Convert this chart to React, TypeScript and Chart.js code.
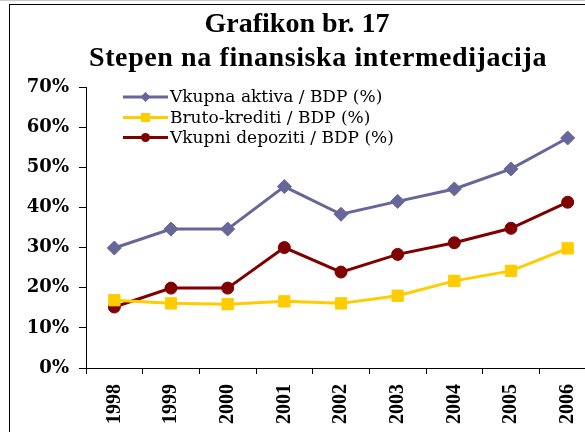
import React, { useEffect, useRef } from 'react';
import { Chart, registerables } from 'chart.js';

Chart.register(...registerables);

const TITLE_LINES = ['Grafikon br. 17', 'Stepen na finansiska intermedijacija'];
const YEARS = ['1998', '1999', '2000', '2001', '2002', '2003', '2004', '2005', '2006'];
const SERIES_LABELS = ['Vkupna aktiva / BDP (%)', 'Bruto-krediti / BDP (%)', 'Vkupni depoziti / BDP (%)'];
const AKTIVA = [29.9, 34.6, 34.6, 45.2, 38.3, 41.5, 44.6, 49.6, 57.3];
const KREDITI = [16.9, 16.1, 15.9, 16.6, 16.1, 18.0, 21.7, 24.2, 29.8];
const DEPOZITI = [15.2, 19.9, 19.9, 30.0, 23.9, 28.3, 31.2, 34.8, 41.3];
const Y_MIN = 0;
const Y_MAX = 70;
const Y_STEP = 10;

const COLORS = ['#666699', '#FFCC00', '#800000'];
const POINT_STYLES = ['rectRot', 'rect', 'circle'];
const POINT_RADII = [7, 8, 6];

function drawMarker(ctx: CanvasRenderingContext2D, style: string, x: number, y: number, r: number, color: string) {
  ctx.save();
  ctx.fillStyle = color;
  ctx.beginPath();
  if (style === 'rectRot') {
    ctx.moveTo(x, y - r);
    ctx.lineTo(x + r, y);
    ctx.lineTo(x, y + r);
    ctx.lineTo(x - r, y);
    ctx.closePath();
  } else if (style === 'rect') {
    ctx.rect(x - r, y - r, 2 * r, 2 * r);
  } else {
    ctx.arc(x, y, r, 0, Math.PI * 2);
  }
  ctx.fill();
  ctx.restore();
}

const decorPlugin = {
  id: 'decor',
  beforeDraw(chart: any) {
    const ctx: any = chart.ctx;
    ctx.save();
    ctx.fillStyle = '#ffffff';
    ctx.fillRect(0, 0, chart.width, chart.height);
    ctx.fillStyle = '#c8c8c8';
    ctx.fillRect(0, 0, chart.width, 1);
    ctx.strokeStyle = '#000000';
    ctx.lineWidth = 1;
    ctx.strokeRect(9.5, 4.5, chart.width + 20, chart.height + 20);
    ctx.fillStyle = '#000000';
    ctx.textAlign = 'center';
    ctx.textBaseline = 'alphabetic';
    ctx.font = 'bold 28px "Liberation Serif"';
    ctx.letterSpacing = '0px';
    ctx.fillText(TITLE_LINES[0], 297, 32);
    ctx.letterSpacing = '0.6px';
    ctx.fillText(TITLE_LINES[1], 318, 66);
    ctx.letterSpacing = '0px';
    ctx.restore();
  },
  afterDraw(chart: any) {
    const ctx: CanvasRenderingContext2D = chart.ctx;
    const x0 = 123;
    const x1 = 168;
    const rowY = [97, 117.5, 137.5];
    ctx.save();
    chart.data.datasets.forEach((ds: any, i: number) => {
      const y = rowY[i];
      ctx.strokeStyle = ds.borderColor;
      ctx.lineWidth = 3;
      ctx.beginPath();
      ctx.moveTo(x0, y);
      ctx.lineTo(x1, y);
      ctx.stroke();
      drawMarker(ctx, POINT_STYLES[i], (x0 + x1) / 2, y, i === 0 ? 5 : 4.5, ds.borderColor);
      ctx.fillStyle = '#000000';
      ctx.font = '17px "DejaVu Serif"';
      ctx.textAlign = 'left';
      ctx.textBaseline = 'middle';
      ctx.fillText(ds.label, x1 + 2, y + 1);
    });
    ctx.restore();
  },
};

export default function App() {
  const ref = useRef<HTMLCanvasElement>(null);

  useEffect(() => {
    const canvas = ref.current;
    if (!canvas) return;
    const seriesData = [AKTIVA, KREDITI, DEPOZITI];
    const chart = new Chart(canvas, {
      type: 'line',
      data: {
        labels: YEARS,
        datasets: seriesData.map((d, i) => ({
          label: SERIES_LABELS[i],
          data: d,
          borderColor: COLORS[i],
          backgroundColor: COLORS[i],
          pointBackgroundColor: COLORS[i],
          pointBorderColor: COLORS[i],
          pointBorderWidth: 1,
          pointStyle: POINT_STYLES[i] as any,
          pointRadius: POINT_RADII[i],
          borderWidth: 3,
          tension: 0,
          fill: false,
        })),
      },
      options: {
        animation: false,
        responsive: false,
        events: [],
        layout: { padding: { top: 87, left: 0, right: 44, bottom: 0 } },
        plugins: {
          legend: { display: false },
          title: { display: false },
          tooltip: { enabled: false },
        },
        scales: {
          x: {
            type: 'category',
            offset: true,
            grid: { offset: true, drawOnChartArea: false, drawTicks: true, tickLength: 6, color: '#000000', lineWidth: 1 },
            border: { display: true, color: '#000000', width: 1 },
            ticks: {
              minRotation: 90,
              maxRotation: 90,
              autoSkip: false,
              padding: 10,
              color: '#000000',
              font: { family: 'Liberation Serif', weight: 'bold', size: 20 },
            },
            afterFit: (s: any) => {
              s.height = 64;
            },
          },
          y: {
            min: Y_MIN,
            max: Y_MAX,
            grid: { drawOnChartArea: false, drawTicks: true, tickLength: 7, color: '#000000', lineWidth: 1 },
            border: { display: true, color: '#000000', width: 1 },
            ticks: {
              stepSize: Y_STEP,
              padding: 10,
              color: '#000000',
              font: { family: 'DejaVu Serif', weight: 'bold', size: 18 },
              callback: (v: any) => `${v}%`,
            },
            afterFit: (s: any) => {
              s.width = 86;
            },
          },
        },
      },
      plugins: [decorPlugin],
    });
    return () => chart.destroy();
  }, []);

  return (
    <div style={{ position: 'fixed', left: 0, top: 0, width: 585, height: 432, overflow: 'hidden', background: '#ffffff' }}>
      <canvas ref={ref} width={640} height={432} style={{ display: 'block', width: 640, height: 432 }} />
    </div>
  );
}
